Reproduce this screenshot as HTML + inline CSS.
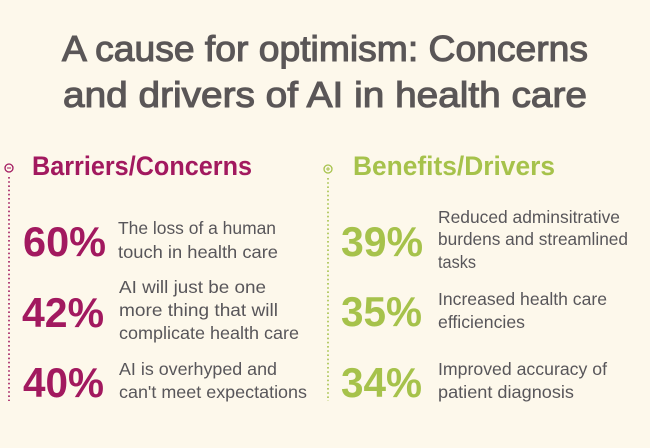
<!DOCTYPE html>
<html><head><meta charset="utf-8"><style>
html,body{margin:0;padding:0;background:#fdf8eb;}
svg{display:block;}
text{font-family:"Liberation Sans",Arial,sans-serif;}
.t{fill:#5a5657;stroke:#5a5657;stroke-width:1.1px;font-weight:normal;font-size:36px;}
.h{font-weight:bold;font-size:26.5px;}
.n{font-weight:bold;font-size:42px;}
.b{fill:#58565a;font-size:17.5px;}
.m{fill:#a2195f;}
.g{fill:#a6c24b;}
</style></head><body>
<svg width="650" height="448" viewBox="0 0 650 448" xmlns="http://www.w3.org/2000/svg">
<rect width="650" height="448" fill="#fdf8eb"/>
<text class="t" x="62" y="61" textLength="526" lengthAdjust="spacingAndGlyphs">A cause for optimism: Concerns</text>
<text class="t" x="63" y="107" textLength="524" lengthAdjust="spacingAndGlyphs">and drivers of AI in health care</text>

<text class="h m" x="32" y="175" textLength="220" lengthAdjust="spacingAndGlyphs">Barriers/Concerns</text>
<text class="h g" x="353" y="175" textLength="202" lengthAdjust="spacingAndGlyphs">Benefits/Drivers</text>

<!-- markers -->
<circle cx="9" cy="168" r="4" fill="none" stroke="#a2195f" stroke-width="1.3"/>
<line x1="7" y1="168" x2="11" y2="168" stroke="#a2195f" stroke-width="1"/>
<line x1="9" y1="177" x2="9" y2="401" stroke="#a2195f" stroke-width="1.6" stroke-dasharray="1.6 2.6"/>
<circle cx="328" cy="169" r="4" fill="none" stroke="#a6c24b" stroke-width="1.3"/>
<line x1="326" y1="169" x2="330" y2="169" stroke="#a6c24b" stroke-width="1"/>
<line x1="328" y1="167" x2="328" y2="171" stroke="#a6c24b" stroke-width="1"/>
<line x1="328" y1="178" x2="328" y2="401" stroke="#a6c24b" stroke-width="1.6" stroke-dasharray="1.6 2.6"/>

<!-- numbers -->
<text class="n m" x="23" y="256" textLength="83" lengthAdjust="spacingAndGlyphs">60%</text>
<text class="n m" x="22" y="327" textLength="82" lengthAdjust="spacingAndGlyphs">42%</text>
<text class="n m" x="23" y="397" textLength="81" lengthAdjust="spacingAndGlyphs">40%</text>
<text class="n g" x="341" y="256" textLength="82" lengthAdjust="spacingAndGlyphs">39%</text>
<text class="n g" x="341" y="326" textLength="81" lengthAdjust="spacingAndGlyphs">35%</text>
<text class="n g" x="341" y="397" textLength="81" lengthAdjust="spacingAndGlyphs">34%</text>

<!-- left text -->
<text class="b" x="118" y="234" textLength="158" lengthAdjust="spacingAndGlyphs">The loss of a human</text>
<text class="b" x="118" y="258" textLength="160" lengthAdjust="spacingAndGlyphs">touch in health care</text>
<text class="b" x="119" y="293" textLength="147" lengthAdjust="spacingAndGlyphs">AI will just be one</text>
<text class="b" x="119" y="316" textLength="159" lengthAdjust="spacingAndGlyphs">more thing that will</text>
<text class="b" x="119" y="339" textLength="180" lengthAdjust="spacingAndGlyphs">complicate health care</text>
<text class="b" x="119" y="375" textLength="158" lengthAdjust="spacingAndGlyphs">AI is overhyped and</text>
<text class="b" x="119" y="398" textLength="188" lengthAdjust="spacingAndGlyphs">can't meet expectations</text>

<!-- right text -->
<text class="b" x="438" y="223" textLength="182" lengthAdjust="spacingAndGlyphs">Reduced adminsitrative</text>
<text class="b" x="438" y="245" textLength="190" lengthAdjust="spacingAndGlyphs">burdens and streamlined</text>
<text class="b" x="438" y="268" textLength="38" lengthAdjust="spacingAndGlyphs">tasks</text>
<text class="b" x="438" y="305" textLength="169" lengthAdjust="spacingAndGlyphs">Increased health care</text>
<text class="b" x="438" y="328" textLength="87" lengthAdjust="spacingAndGlyphs">efficiencies</text>
<text class="b" x="438" y="375" textLength="169" lengthAdjust="spacingAndGlyphs">Improved accuracy of</text>
<text class="b" x="438" y="398" textLength="136" lengthAdjust="spacingAndGlyphs">patient diagnosis</text>
</svg>
</body></html>
